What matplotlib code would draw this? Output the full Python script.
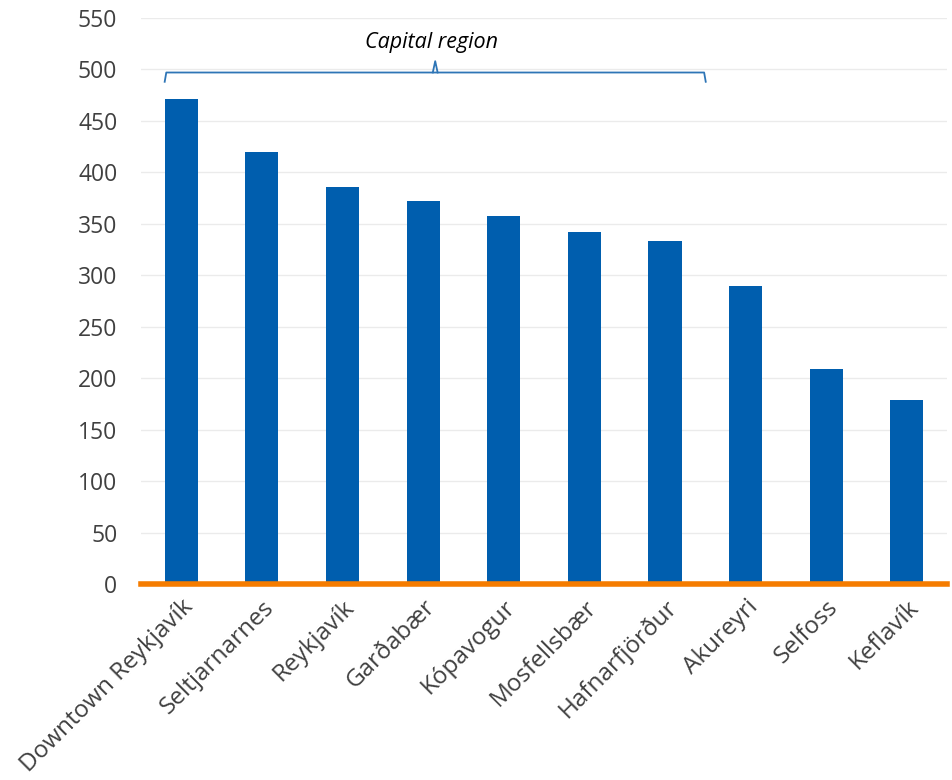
import matplotlib
matplotlib.use("Agg")
import matplotlib.pyplot as plt
import numpy as np

plt.rcParams["font.family"] = ["Open Sans", "DejaVu Sans"]

towns = ["Downtown Reykjavík", "Seltjarnarnes", "Reykjavík", "Garðabær", "Kópavogur",
         "Mosfellsbær", "Hafnarfjörður", "Akureyri", "Selfoss", "Keflavík"]
values = [471, 420, 386, 372, 358, 342, 333, 290, 209, 179]
y_ticks = list(range(0, 551, 50))
capital_span = (0, 6)   # first and last index of the capital-region towns
bracket_label = "Capital region"

BAR_BLUE = "#005EAE"
ORANGE = "#F57C00"
TXT = "#404040"

fig = plt.figure(figsize=(9.52, 7.8), dpi=100)
ax = fig.add_axes([0.148, 0.251, 0.847, 0.726])

x = np.arange(len(towns))
bar_w = 0.41
ax.bar(x, values, width=bar_w, color=BAR_BLUE, zorder=3)

ax.set_xlim(-0.5, len(towns) - 0.5)
ax.set_ylim(0, 550)
ax.set_yticks(y_ticks)
ax.yaxis.grid(True, color="#EBEBEB", lw=1.0, zorder=0)
ax.set_axisbelow(True)
for s in ax.spines.values():
    s.set_visible(False)
ax.axhline(0, color=ORANGE, lw=4, zorder=4, clip_on=False)

ax.tick_params(axis="both", length=0, colors=TXT)
ax.set_xticks(x)
ax.set_xticklabels(towns, rotation=45, ha="right", rotation_mode="anchor")
ax.tick_params(axis="x", pad=8, labelsize=17.5)
ax.tick_params(axis="y", pad=17, labelsize=16.5)

# curly-ish bracket over the capital-region bars
x0 = capital_span[0] - bar_w / 2
x1 = capital_span[1] + bar_w / 2 + 0.3
xm = (x0 + x1) / 2
y_line, y_end, y_tip = 497, 488, 508
ax.plot([x0, x0 + 0.02, x1 - 0.02, x1], [y_end, y_line, y_line, y_end],
        color="#2E75B6", lw=1.3, clip_on=False, zorder=5)
ax.plot([xm - 0.03, xm, xm + 0.03], [y_line, y_tip, y_line],
        color="#2E75B6", lw=1.3, clip_on=False, zorder=5)
ax.text(xm - 0.05, 526, bracket_label, ha="center", va="center", fontsize=15.5,
        style="italic", color="black")

fig.savefig("out.png", dpi=100)
